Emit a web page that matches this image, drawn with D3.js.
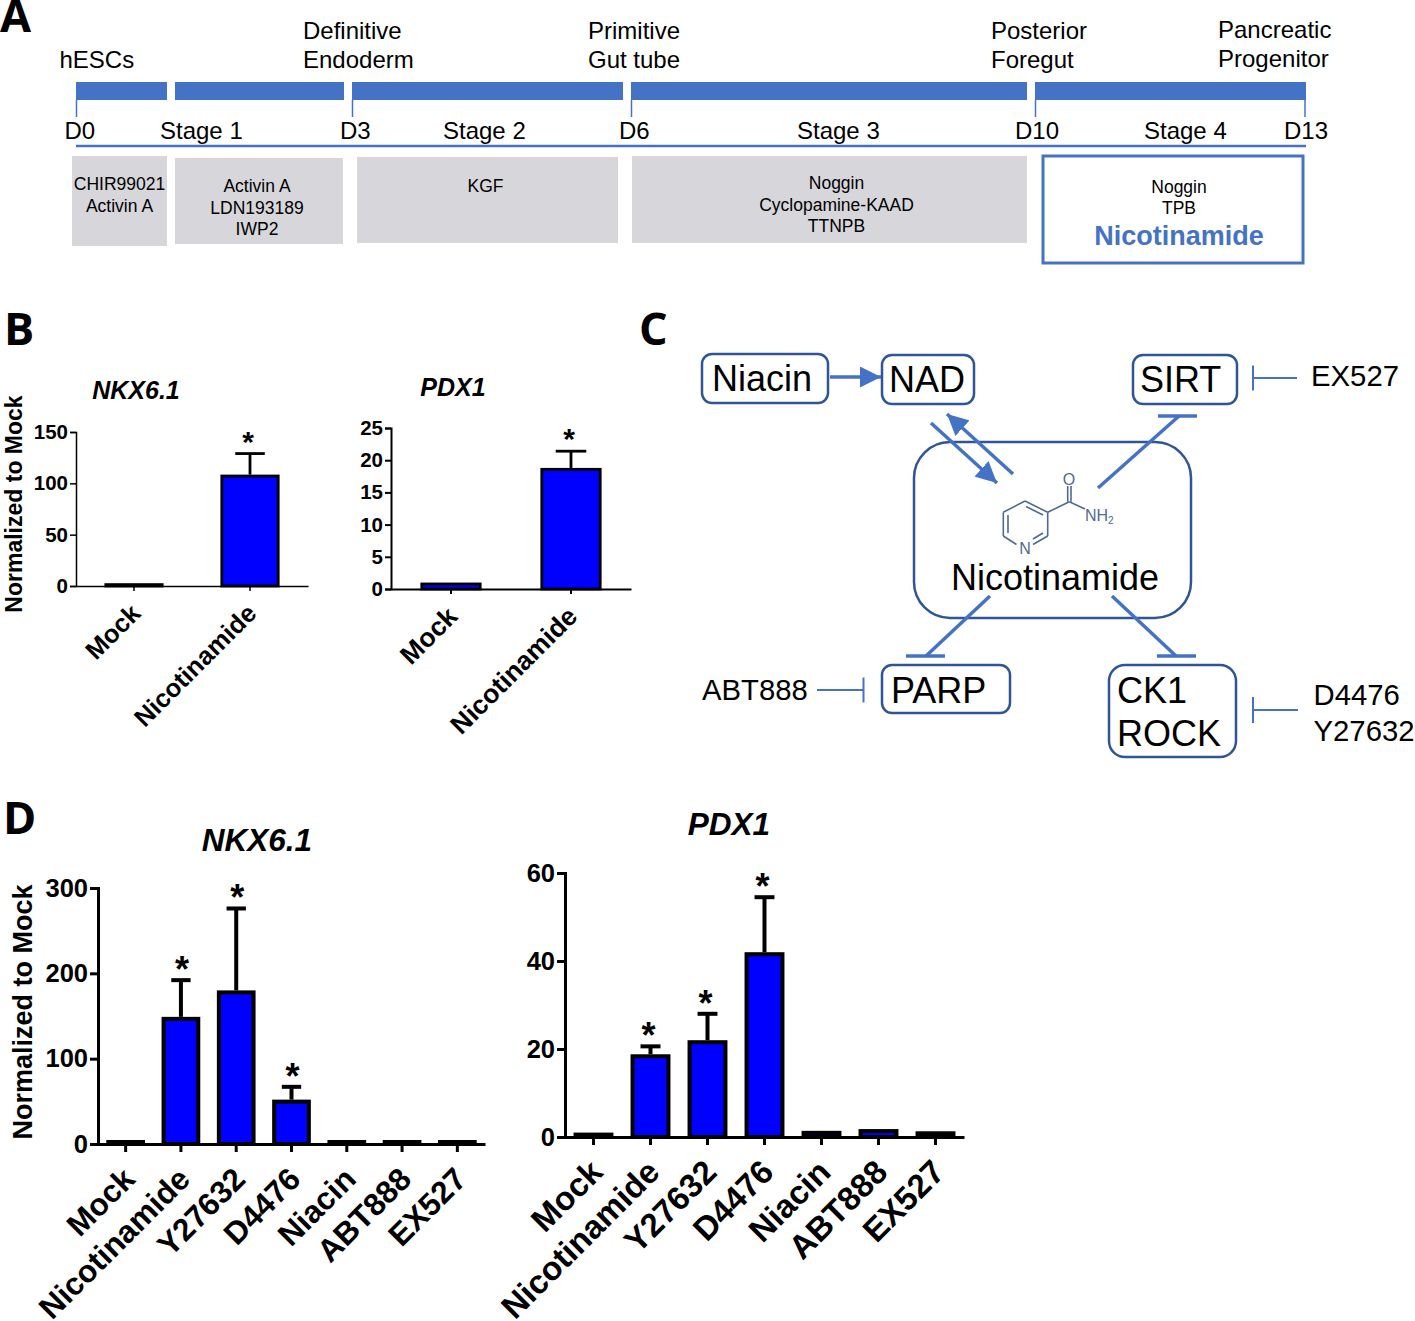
<!DOCTYPE html>
<html>
<head>
<meta charset="utf-8">
<script src="https://cdn.jsdelivr.net/npm/d3@7"></script>
<style>
  body { margin: 0; background: #fff; }
  text { font-family: "Liberation Sans", Arial, sans-serif; fill: #000; }
</style>
</head>
<body>
<svg id="fig" width="1415" height="1321"></svg>
<script>
// panel B
const categoriesB = ['Mock', 'Nicotinamide']
const nkxValuesB = [1, 108.5]
const nkxErrorsB = [null, 129]
const nkxStarsB = [false, true]
const nkxTicksB = [0, 50, 100, 150]
const pdxValuesB = [1, 18.8]
const pdxErrorsB = [null, 21.4]
const pdxStarsB = [false, true]
const pdxTicksB = [0, 5, 10, 15, 20, 25]

// panel D
const categoriesD = ['Mock', 'Nicotinamide', 'Y27632', 'D4476', 'Niacin', 'ABT888', 'EX527']
const nkxValuesD = [1.5, 149, 180, 52, 2, 2, 4]
const nkxErrorsD = [null, 192, 276, 67, null, null, null]
const nkxStarsD = [false, true, true, true, false, false, false]
const nkxTicksD = [0, 100, 200, 300]
const pdxValuesD = [1, 18.8, 22, 42, 1.4, 1.8, 1.3]
const pdxErrorsD = [null, 20.6, 28, 54.5, null, null, null]
const pdxStarsD = [false, true, true, true, false, false, false]
const pdxTicksD = [0, 20, 40, 60]

// panel A
const timelineKnots = [0, 1, 3, 6, 10, 13]
const dayLabels = [0, 3, 6, 10, 13]

const blue = '#4472c4'
const darkBlue = '#2f5597'
const svg = d3.select('#fig')

const txt = (parent, str, x, y, size, opts = {}) => parent.append('text')
  .attr('x', x)
  .attr('y', y)
  .attr('font-size', size)
  .attr('text-anchor', opts.anchor || 'start')
  .attr('font-weight', opts.weight || 'normal')
  .attr('font-style', opts.style || 'normal')
  .style('fill', opts.fill || '#000')
  .text(str)

const line = (parent, x1, y1, x2, y2, color, width) => parent.append('line')
  .attr('x1', x1).attr('y1', y1)
  .attr('x2', x2).attr('y2', y2)
  .attr('stroke', color)
  .attr('stroke-width', width)

// panel letters
const letter = (str, x, y) => txt(svg, str, x, y, 45, { weight: 'bold' })
  .style('font-family', '"Open Sans"')
letter('A', 0, 32)
letter('B', 4, 345)
letter('C', 639, 345)
letter('D', 3, 834)

// ---- A: timeline
const drawTimeline = () => {
  const g = svg.append('g').classed('panel-a', true)
  const x = d3.scaleLinear().domain(timelineKnots).range([76, 175, 352, 631, 1035, 1306])
  const last = timelineKnots[timelineKnots.length - 1]
  const spans = d3.pairs(timelineKnots)

  g.selectAll('rect.stage').data(spans).enter().append('rect')
    .classed('stage', true)
    .attr('x', d => x(d[0]))
    .attr('y', 82)
    .attr('width', d => (d[1] === last ? x(d[1]) : x(d[1]) - 8) - x(d[0]))
    .attr('height', 18)
    .attr('fill', blue)

  g.selectAll('line.day').data(dayLabels).enter().append('line')
    .classed('day', true)
    .attr('x1', d => x(d) - (d === last ? 1 : -0.5))
    .attr('x2', d => x(d) - (d === last ? 1 : -0.5))
    .attr('y1', 100)
    .attr('y2', 117)
    .attr('stroke', blue)
    .attr('stroke-width', 1.5)

  line(g, x(0), 146, x(last), 146, blue, 2.5)

  const dayX = { 0: 64.5, 3: 340, 6: 619, 10: 1015, 13: 1284 }
  dayLabels.forEach(d => txt(g, `D${d}`, dayX[d], 139, 24))

  const stageNames = [['Stage 1', 160], ['Stage 2', 443], ['Stage 3', 797], ['Stage 4', 1144]]
  stageNames.forEach(d => txt(g, d[0], d[1], 139, 24))

  const cellNames = [
    ['hESCs', 59.5, 68], ['Definitive', 303, 39], ['Endoderm', 303, 68],
    ['Primitive', 588, 39], ['Gut tube', 588, 68], ['Posterior', 991, 39],
    ['Foregut', 991, 68], ['Pancreatic', 1218, 38], ['Progenitor', 1218, 67]
  ]
  cellNames.forEach(d => txt(g, d[0], d[1], d[2], 24))

  const treatBoxes = [
    [72, 156, 95, 90], [175, 158, 168, 86], [357, 157, 261, 86], [632, 156, 395, 87]
  ]
  g.selectAll('rect.treat').data(treatBoxes).enter().append('rect')
    .classed('treat', true)
    .attr('x', d => d[0])
    .attr('y', d => d[1])
    .attr('width', d => d[2])
    .attr('height', d => d[3])
    .attr('fill', '#d7d7db')

  g.append('rect')
    .attr('x', 1043).attr('y', 156)
    .attr('width', 260).attr('height', 107)
    .attr('fill', 'none')
    .attr('stroke', blue)
    .attr('stroke-width', 3)

  const treatments = [
    ['CHIR99021', 119.5, 190], ['Activin A', 119.5, 212],
    ['Activin A', 257, 192], ['LDN193189', 257, 214], ['IWP2', 257, 235],
    ['KGF', 485.5, 192],
    ['Noggin', 836.5, 189], ['Cyclopamine-KAAD', 836.5, 211], ['TTNPB', 836.5, 232],
    ['Noggin', 1179, 193], ['TPB', 1179, 214]
  ]
  treatments.forEach(d => txt(g, d[0], d[1], d[2], 17.5, { anchor: 'middle' }))
  txt(g, 'Nicotinamide', 1179, 245, 27, { anchor: 'middle', weight: 'bold', fill: blue })
}

// ---- C: pathway
const drawPathway = () => {
  const g = svg.append('g').classed('panel-c', true)

  svg.append('defs').append('marker')
    .attr('id', 'head')
    .attr('markerUnits', 'userSpaceOnUse')
    .attr('viewBox', '0 0 20 20')
    .attr('refX', 20).attr('refY', 10)
    .attr('markerWidth', 21).attr('markerHeight', 21)
    .attr('orient', 'auto')
    .append('path')
    .attr('d', 'M0,0L20,10L0,20Z')
    .attr('fill', blue)

  const nodes = [
    [702, 354, 126, 49, 10], [882, 355, 92, 49, 10], [1133, 355, 104, 49, 10],
    [914, 442, 277, 176, 36], [882, 665, 128, 48, 10], [1109, 665, 127, 92, 16]
  ]
  g.selectAll('rect.node').data(nodes).enter().append('rect')
    .classed('node', true)
    .attr('x', d => d[0])
    .attr('y', d => d[1])
    .attr('width', d => d[2])
    .attr('height', d => d[3])
    .attr('rx', d => d[4])
    .attr('fill', 'none')
    .attr('stroke', darkBlue)
    .attr('stroke-width', 2.5)

  const names = [
    ['Niacin', 712, 391], ['NAD', 889, 392], ['SIRT', 1140, 392],
    ['PARP', 891, 703], ['CK1', 1117, 703], ['ROCK', 1117, 746]
  ]
  names.forEach(d => txt(g, d[0], d[1], d[2], 36))
  txt(g, 'Nicotinamide', 1055, 590, 36, { anchor: 'middle' })

  const drugs = [
    ['EX527', 1311, 386], ['ABT888', 702, 700], ['D4476', 1313.5, 705], ['Y27632', 1313.5, 741]
  ]
  drugs.forEach(d => txt(g, d[0], d[1], d[2], 29.3))

  const arrows = [[830, 377, 881, 377], [931, 423, 997, 483], [1013, 474, 947, 414]]
  arrows.forEach(d => line(g, d[0], d[1], d[2], d[3], blue, 3.5).attr('marker-end', 'url(#head)'))

  const blocks = [
    [1098, 488, 1179, 416, 1158, 1197], [990, 596, 926, 656, 906, 945], [1112, 596, 1176, 656, 1157, 1196]
  ]
  blocks.forEach(d => {
    line(g, d[0], d[1], d[2], d[3], blue, 3.5)
    line(g, d[4], d[3], d[5], d[3], blue, 3.5)
  })

  const inhibitors = [[1297, 1253, 378, 12.5], [817, 863.5, 690, 12.5], [1298, 1253, 710, 13]]
  inhibitors.forEach(d => {
    line(g, d[0], d[2], d[1], d[2], blue, 2)
    line(g, d[1], d[2] - d[3], d[1], d[2] + d[3], blue, 2)
  })

  // molecule
  const mol = g.append('g').classed('molecule', true)
  const molColor = '#4f6a92'
  const bonds = [
    [1025, 501, 1047.7, 512.3], [1047.7, 512.3, 1047.7, 536], [1047.7, 536, 1033, 544.5],
    [1016.5, 544.5, 1003.3, 536], [1003.3, 536, 1003.3, 512.3], [1003.3, 512.3, 1025, 501],
    [1026, 506.5, 1043, 515], [1008, 515, 1008, 533], [1033, 539, 1043, 533],
    [1047.7, 512.3, 1069.3, 501.7], [1069.3, 501.7, 1085, 509],
    [1067.7, 501.7, 1067.7, 486], [1071, 501.7, 1071, 486]
  ]
  bonds.forEach(d => line(mol, d[0], d[1], d[2], d[3], molColor, 1.6))
  txt(mol, 'O', 1069, 485, 16, { anchor: 'middle', fill: molColor })
  txt(mol, 'N', 1025, 554, 16, { anchor: 'middle', fill: molColor })
  const nh = txt(mol, 'NH', 1085, 521, 16, { fill: molColor })
  nh.append('tspan').attr('font-size', 10).attr('dy', 3).text('2')
}

// ---- B / D: bar charts
const barChart = ({ categories, values, errors, stars, ticks, xRange, yRange, title, titleY, titleX, size, labelSize, starSize, titleSize, tickLen, xTickLen, axisWidth, barFrac, barStroke, labelEnd, labelDy, starDy, starShift }) => {
  const g = svg.append('g').classed('bars', true)
  const x = d3.scaleBand().domain(categories).range(xRange)
  const y = d3.scaleLinear().domain([0, d3.max(ticks)]).range(yRange)
  const bw = x.bandwidth() * barFrac
  const data = categories.map((c, i) => ({ c, v: values[i], e: errors[i], s: stars[i] }))
  const cx = d => x(d.c) + x.bandwidth() / 2

  // error bars go under the bar outline
  const withErr = data.filter(d => d.e !== null)
  g.selectAll('line.err').data(withErr).enter().append('line')
    .classed('err', true)
    .attr('x1', cx).attr('x2', cx)
    .attr('y1', d => y(d.v))
    .attr('y2', d => y(d.e))
    .attr('stroke', '#000')
    .attr('stroke-width', barStroke)
  g.selectAll('line.cap').data(withErr).enter().append('line')
    .classed('cap', true)
    .attr('x1', d => cx(d) - bw / 4).attr('x2', d => cx(d) + bw / 4)
    .attr('y1', d => y(d.e))
    .attr('y2', d => y(d.e))
    .attr('stroke', '#000')
    .attr('stroke-width', barStroke)

  // very small bars still show their outline above the axis
  const barTop = d => Math.min(y(d.v) + barStroke / 2, y(0) - barStroke / 2)
  g.selectAll('rect.bar').data(data).enter().append('rect')
    .classed('bar', true)
    .attr('x', d => cx(d) - bw / 2 + barStroke / 2)
    .attr('y', barTop)
    .attr('width', bw - barStroke)
    .attr('height', d => y(0) - barTop(d))
    .attr('fill', '#0000ff')
    .attr('stroke', '#000')
    .attr('stroke-width', barStroke)

  g.selectAll('text.star').data(data.filter(d => d.s)).enter().append('text')
    .classed('star', true)
    .attr('x', d => cx(d) + starShift)
    .attr('y', d => y(d.e) - starDy)
    .attr('text-anchor', 'middle')
    .attr('font-size', starSize)
    .attr('font-weight', 'bold')
    .text('*')

  const yAxis = g.append('g')
    .attr('transform', `translate(${xRange[0]},0)`)
    .call(d3.axisLeft(y).tickValues(ticks).tickSize(tickLen).tickPadding(2))
  const xAxis = g.append('g')
    .attr('transform', `translate(0,${yRange[0]})`)
    .call(d3.axisBottom(x).tickSize(xTickLen).tickSizeOuter(0))

  yAxis.selectAll('text')
    .attr('font-size', size)
    .attr('font-weight', 'bold')
    .style('font-family', '"Liberation Sans"')
  xAxis.selectAll('text')
    .attr('font-size', labelSize)
    .attr('font-weight', 'bold')
    .style('font-family', '"Liberation Sans"')
    .attr('text-anchor', 'end')
    .attr('dy', 0)
    .attr('y', 0)
    .attr('transform', `translate(${labelEnd},${labelDy}) rotate(-45)`)
  g.selectAll('.domain, .tick line')
    .attr('stroke', '#000')
    .attr('stroke-width', axisWidth)

  txt(g, title, titleX, titleY, titleSize, { anchor: 'middle', weight: 'bold', style: 'italic' })
}

const yLabel = (str, x, y, size) => svg.append('text')
  .attr('transform', `translate(${x},${y}) rotate(-90)`)
  .attr('text-anchor', 'middle')
  .attr('font-size', size)
  .attr('font-weight', 'bold')
  .text(str)

drawTimeline()
drawPathway()

const smallChart = {
  categories: categoriesB, size: 20.5, starSize: 30, titleSize: 25, tickLen: 6, xTickLen: 5,
  barFrac: 0.51, barStroke: 2.8, labelEnd: 8, labelDy: 29, starDy: 2, starShift: -2
}
barChart({
  ...smallChart,
  values: nkxValuesB, errors: nkxErrorsB, stars: nkxStarsB, ticks: nkxTicksB,
  xRange: [76, 308], yRange: [586, 432], axisWidth: 1.5, labelSize: 25.5,
  title: 'NKX6.1', titleX: 136, titleY: 399
})
barChart({
  ...smallChart,
  values: pdxValuesB, errors: pdxErrorsB, stars: pdxStarsB, ticks: pdxTicksB,
  xRange: [391, 631], yRange: [589, 428], axisWidth: 2, labelSize: 26.5,
  title: 'PDX1', titleX: 453, titleY: 396
})
yLabel('Normalized to Mock', 22, 504, 23)

const bigChart = {
  categories: categoriesD, size: 25.5, starSize: 36, titleSize: 31.5, tickLen: 8, xTickLen: 8,
  barFrac: 0.7, axisWidth: 3, barStroke: 4, labelEnd: 11, labelDy: 37
}
barChart({
  ...bigChart,
  values: nkxValuesD, errors: nkxErrorsD, stars: nkxStarsD, ticks: nkxTicksD,
  xRange: [98, 485], yRange: [1144, 888], labelSize: 31.5, starDy: -2, starShift: 1,
  title: 'NKX6.1', titleX: 257, titleY: 851
})
barChart({
  ...bigChart,
  values: pdxValuesD, errors: pdxErrorsD, stars: pdxStarsD, ticks: pdxTicksD,
  xRange: [565, 964], yRange: [1137, 873], labelSize: 33, starDy: -2, starShift: -2,
  title: 'PDX1', titleX: 729, titleY: 835
})
yLabel('Normalized to Mock', 32, 1012, 27)
</script>
</body>
</html>
